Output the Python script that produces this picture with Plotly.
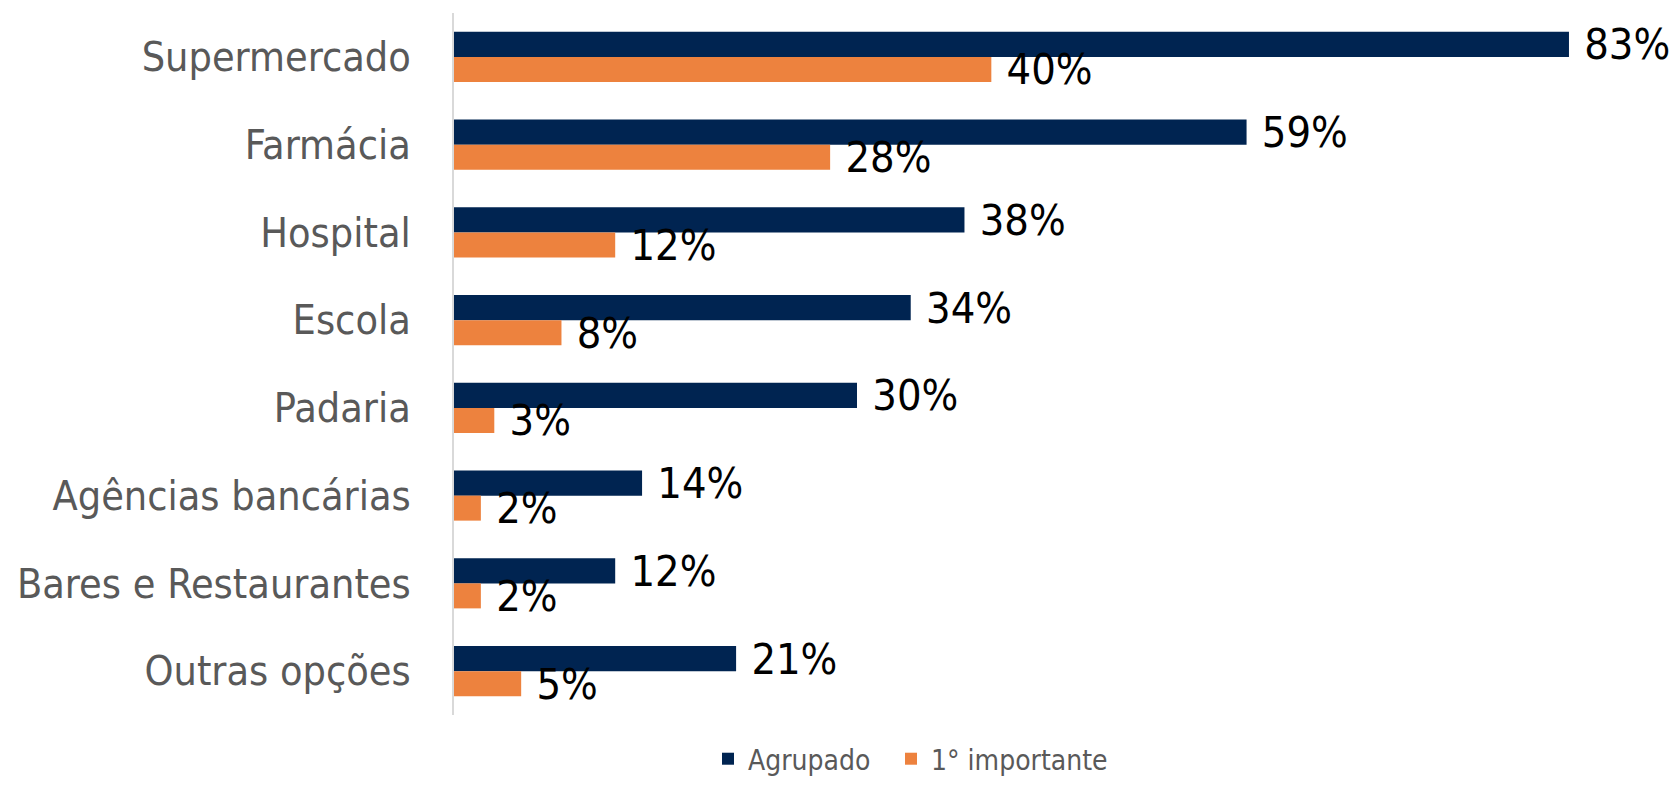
import plotly.graph_objects as go

categories = ["Supermercado", "Farmácia", "Hospital", "Escola", "Padaria",
              "Agências bancárias", "Bares e Restaurantes", "Outras opções"]
agrupado = [83, 59, 38, 34, 30, 14, 12, 21]
importante = [40, 28, 12, 8, 3, 2, 2, 5]
series_names = ["Agrupado", "1° importante"]
colors = ["#002451", "#ED823E"]
legend_ids = ["legend", "legend2"]

FONT = "DejaVu Sans Condensed, DejaVu Sans, sans-serif"

fig = go.Figure()
for name, vals, col, lg in zip(series_names, [agrupado, importante], colors, legend_ids):
    fig.add_trace(go.Bar(
        y=categories, x=vals, name=name, orientation="h",
        marker=dict(color=col, line=dict(width=0)),
        text=[f"\u00a0{v}%" for v in vals],
        textposition="outside", constraintext="none", cliponaxis=False,
        textfont=dict(family=FONT, size=43, color="#000000"),
        hoverinfo="skip", legend=lg,
    ))

leg_common = dict(orientation="h", yref="paper", y=-0.0627, yanchor="middle",
                  xref="paper", xanchor="left",
                  font=dict(family=FONT, size=28, color="#595959"),
                  itemwidth=30, bgcolor="rgba(0,0,0,0)")

fig.update_layout(
    width=1662, height=771,
    barmode="group", bargap=0.43, bargroupgap=0,
    paper_bgcolor="white", plot_bgcolor="white",
    margin=dict(l=446, r=7, t=5, b=64, autoexpand=False),
    font=dict(family=FONT, color="#595959"),
    showlegend=True,
    legend=dict(x=(700 - 446) / 1209, **leg_common),
    legend2=dict(x=(883 - 446) / 1209, **leg_common),
)
fig.update_xaxes(range=[0, 90], visible=False, showgrid=False, zeroline=False)
fig.update_yaxes(autorange="reversed", showgrid=False, zeroline=False,
                 showline=True, linecolor="#D9D9D9", linewidth=2,
                 ticks="", ticklabelstandoff=33, automargin=False,
                 tickfont=dict(family=FONT, size=41, color="#595959"))

fig.write_html("out.html")
